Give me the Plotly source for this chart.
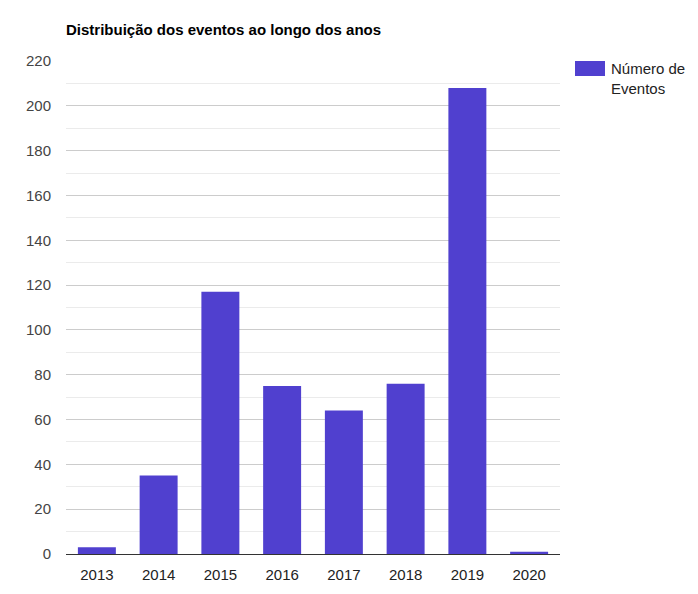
import plotly.graph_objects as go

years = ["2013", "2014", "2015", "2016", "2017", "2018", "2019", "2020"]
eventos = [3, 35, 117, 75, 64, 76, 208, 1]
y_ticks = [0, 20, 40, 60, 80, 100, 120, 140, 160, 180, 200, 220]

bar_color = "#5040cf"

W, H = 690, 586  # page body has an 8px margin
fig = go.Figure()
fig.add_trace(go.Bar(x=years, y=eventos, marker=dict(color=bar_color, line=dict(width=0)),
                     name="Número de Eventos", showlegend=False))

fig.update_layout(
    width=W, height=H,
    margin=dict(l=58, r=138, t=53, b=40),
    paper_bgcolor="white", plot_bgcolor="white",
    font=dict(family="Liberation Sans, Arial, sans-serif", size=15, color="#444444"),
    bargap=0.385,
    title=dict(text="<b>Distribuição dos eventos ao longo dos anos</b>",
               x=58/W, xanchor="left", y=1-22/H, yanchor="middle",
               font=dict(size=15, color="#000000")),
    xaxis=dict(showgrid=False, showline=True, linecolor="#333333", linewidth=1,
               ticks="", ticklabelstandoff=7, tickfont=dict(size=15, color="#222222"),
               zeroline=False),
    yaxis=dict(range=[0, 220], tickvals=y_ticks, showgrid=True, gridcolor="#cccccc",
               gridwidth=1, zeroline=False, ticks="", ticklabelstandoff=14,
               tickfont=dict(size=15, color="#444444"),
               minor=dict(dtick=10, showgrid=True, gridcolor="#ebebeb", gridwidth=1)),
)

fig.add_shape(type="rect", xref="paper", yref="paper",
              x0=(575-66)/494, x1=(605-66)/494,
              y0=(554-76)/493, y1=(554-61)/493,
              fillcolor=bar_color, line=dict(width=0))
fig.add_annotation(xref="paper", yref="paper", x=(609-66)/494, y=(554-58)/493,
                   xanchor="left", yanchor="top", align="left", showarrow=False,
                   text="Número de<br>Eventos", font=dict(size=15, color="#222222"))

fig.write_html("out.html")
